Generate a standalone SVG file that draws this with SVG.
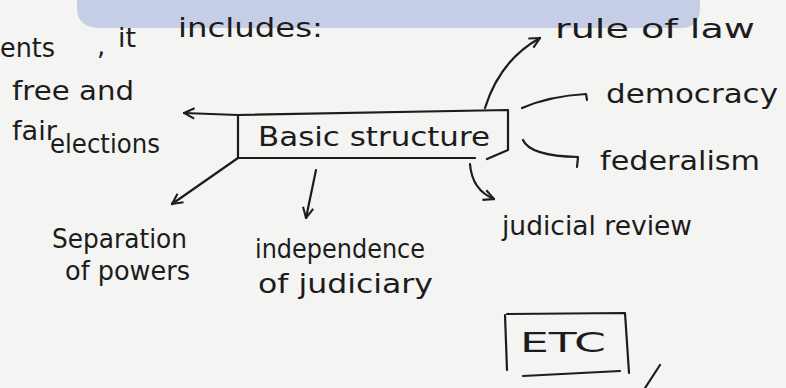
<svg xmlns="http://www.w3.org/2000/svg" width="786" height="388" viewBox="0 0 786 388">
<style>
.t{font-family:"DejaVu Sans","Liberation Sans",sans-serif;fill:#1c1c1c;font-size:26px}
.s{fill:none;stroke:#1c1c1c;stroke-width:2.2;stroke-linecap:round;stroke-linejoin:round}
</style>
<defs>
<marker id="ah" viewBox="0 0 10 10" refX="9" refY="5" markerWidth="13" markerHeight="13" markerUnits="userSpaceOnUse" orient="auto">
<path d="M1,1 L9,5 L1,9" fill="none" stroke="#1c1c1c" stroke-width="1.6"/>
</marker>
</defs>
<rect width="786" height="388" fill="#f4f4f2"/>
<path d="M77,0 H700 V8 Q700,28 680,28 H100 Q77,28 77,8 Z" fill="#c6cee7"/>
<g id="header">
<text class="t" x="0" y="57" font-size="28" textLength="55" lengthAdjust="spacingAndGlyphs">ents</text>
<text class="t" x="97" y="55">,</text>
<text class="t" x="118" y="47" font-size="28" textLength="18" lengthAdjust="spacingAndGlyphs">it</text>
<text class="t" x="178" y="37" font-size="28" textLength="145" lengthAdjust="spacingAndGlyphs">includes:</text>
</g>
<g id="basic-structure">
<path class="s" d="M238,115 L508,110 L508,150 L487,159"/>
<path class="s" d="M238,115 L238,158 L475,158"/>
<text class="t" x="258" y="146" font-size="28" textLength="232" lengthAdjust="spacingAndGlyphs">Basic structure</text>
</g>
<g id="free-fair-elections">
<text class="t" x="12" y="100" font-size="25" textLength="122" lengthAdjust="spacingAndGlyphs">free and</text>
<text class="t" x="12" y="140" font-size="25" textLength="45" lengthAdjust="spacingAndGlyphs">fair</text>
<text class="t" x="50" y="153" font-size="25" textLength="110" lengthAdjust="spacingAndGlyphs">elections</text>
</g>
<g id="rule-of-law"><text class="t" x="555" y="38" font-size="28" textLength="200" lengthAdjust="spacingAndGlyphs">rule of law</text></g>
<g id="democracy"><text class="t" x="606" y="103" font-size="28" textLength="172" lengthAdjust="spacingAndGlyphs">democracy</text></g>
<g id="federalism"><text class="t" x="600" y="170" font-size="28" textLength="160" lengthAdjust="spacingAndGlyphs">federalism</text></g>
<g id="judicial-review"><text class="t" x="502" y="235" textLength="190" lengthAdjust="spacingAndGlyphs">judicial review</text></g>
<g id="separation-of-powers">
<text class="t" x="52" y="248" font-size="25" textLength="135" lengthAdjust="spacingAndGlyphs">Separation</text>
<text class="t" x="65" y="280" font-size="25" textLength="125" lengthAdjust="spacingAndGlyphs">of powers</text>
</g>
<g id="independence-of-judiciary">
<text class="t" x="255" y="258" font-size="25" textLength="170" lengthAdjust="spacingAndGlyphs">independence</text>
<text class="t" x="258" y="293" font-size="25" textLength="175" lengthAdjust="spacingAndGlyphs">of judiciary</text>
</g>
<g id="etc">
<path class="s" d="M505,315 L507,370 M507,314 L625,313 L629,373 M523,376 L620,371"/>
<text class="t" x="520" y="352" textLength="86" lengthAdjust="spacingAndGlyphs">ETC</text>
</g>
<g id="connectors">
<path class="s" d="M238,115 L184,113" marker-end="url(#ah)"/>
<path class="s" d="M238,158 L172,204" marker-end="url(#ah)"/>
<path class="s" d="M316,170 L306,218" marker-end="url(#ah)"/>
<path class="s" d="M470,164 Q472,190 494,199" marker-end="url(#ah)"/>
<path class="s" d="M485,108 Q500,60 540,38" marker-end="url(#ah)"/>
<path class="s" d="M522,108 Q550,96 586,94 L587,100"/>
<path class="s" d="M523,140 Q530,156 578,157 L577,167"/>
<path class="s" d="M660,365 L645,388"/>
</g>
</svg>
